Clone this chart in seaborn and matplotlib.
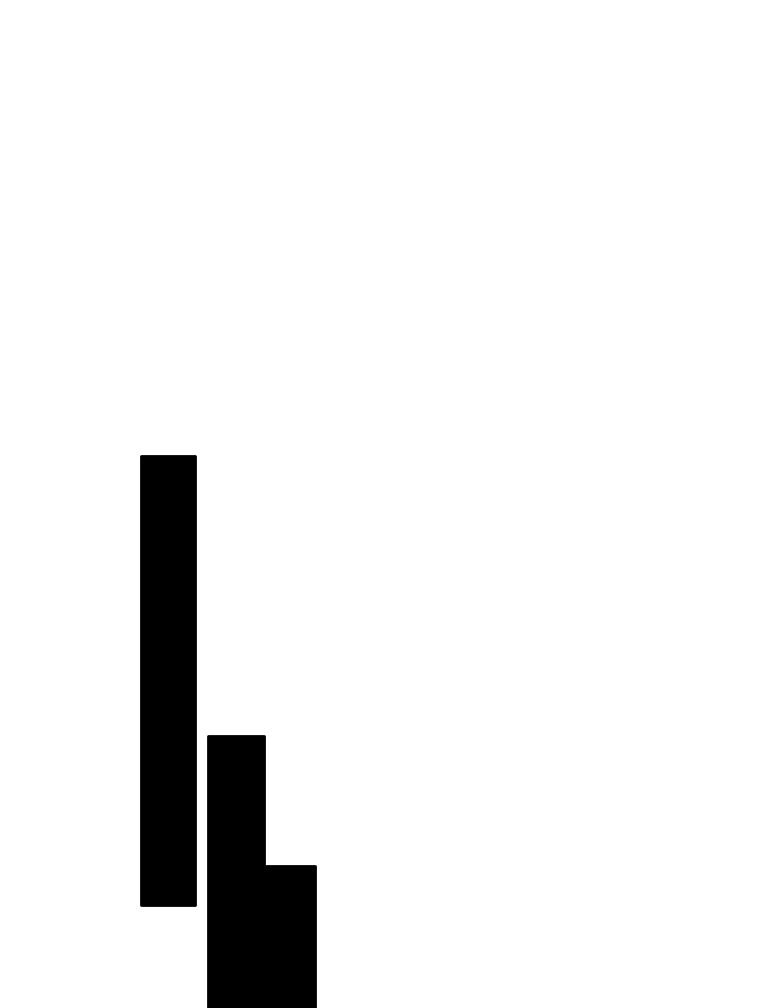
import matplotlib
matplotlib.use("Agg")
import matplotlib.pyplot as plt
import pandas as pd
import seaborn as sns

# values (axis: 0 at bottom edge, 100 at top edge)
positions = [168.0, 236.0, 290.5]
bar_bottoms = [10.26, -5.0, -5.0]
bar_tops = [54.72, 26.94, 14.05]

heights = [t - b for t, b in zip(bar_tops, bar_bottoms)]
df = pd.DataFrame({"pos": positions, "height": heights})

sns.set_theme(style="white")

fig = plt.figure(figsize=(7.6, 10.08), dpi=100)
ax = fig.add_axes([0, 0, 1, 1])

sns.barplot(data=df, x="pos", y="height", native_scale=True, color="black",
            saturation=1, bottom=bar_bottoms, edgecolor="black",
            linewidth=2, ax=ax)

# bars are not all the same width
bar_widths = [53.2, 55.2, 48.2]
for patch, cx, w in zip(ax.patches, positions, bar_widths):
    patch.set_width(w)
    patch.set_x(cx - w / 2)
    patch.set_joinstyle("round")

ax.set_xlim(0, 760)
ax.set_ylim(0, 100)
ax.set_axis_off()

fig.savefig("out.png", dpi=100, facecolor="white")
